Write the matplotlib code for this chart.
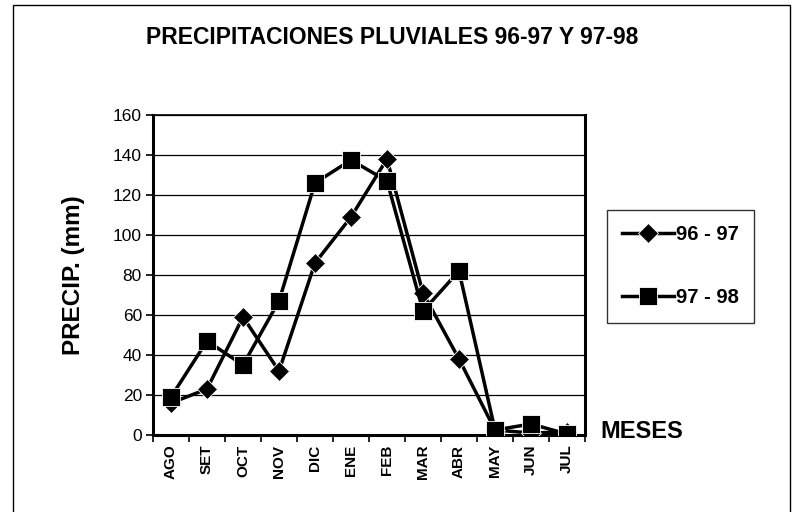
import matplotlib
matplotlib.use('Agg')
import matplotlib.pyplot as plt
from matplotlib.patches import Rectangle
import numpy as np

months = ['AGO', 'SET', 'OCT', 'NOV', 'DIC', 'ENE', 'FEB', 'MAR', 'ABR', 'MAY', 'JUN', 'JUL']
precip_96_97 = [16, 23, 59, 32, 86, 109, 138, 71, 38, 2.5, 1, 1.5]
precip_97_98 = [19, 47, 35, 67, 126, 137.5, 127, 62, 82, 2.5, 5.5, 0.5]
yticks = [0, 20, 40, 60, 80, 100, 120, 140, 160]

plt.rcParams['font.family'] = ['Liberation Sans', 'DejaVu Sans']

fig = plt.figure(figsize=(7.98, 5.12), dpi=100)
ax = fig.add_axes([153 / 798, 1 - 435 / 512, 432 / 798, 320 / 512])

x = np.arange(len(months))
ax.plot(x, precip_96_97, color='black', lw=2.5, marker='D', markersize=10,
        markerfacecolor='black', markeredgecolor='white', markeredgewidth=0.6,
        label='96 - 97', zorder=3)
ax.plot(x, precip_97_98, color='black', lw=2.5, marker='s', markersize=13,
        markerfacecolor='black', markeredgecolor='white', markeredgewidth=0.6,
        label='97 - 98', zorder=3)

ax.set_xlim(-0.5, len(months) - 0.5)
ax.set_ylim(0, 160)
ax.set_yticks(yticks)
ax.set_yticklabels([str(v) for v in yticks], fontsize=12.5)
ax.set_xticks(x)
ax.set_xticklabels(months, rotation=90, fontsize=11, fontweight='bold')
ax.set_xticks(np.arange(-0.5, len(months)), minor=True)
ax.tick_params(axis='x', which='major', length=0, pad=7)
ax.tick_params(axis='x', which='minor', length=5, width=1.2, direction='out')
ax.tick_params(axis='y', length=5, width=1.2, direction='out', pad=3)
ax.grid(axis='y', color='black', lw=0.9)
ax.set_axisbelow(True)
for side in ['left', 'bottom', 'right']:
    ax.spines[side].set_linewidth(2.2)
ax.spines['top'].set_linewidth(1.2)

ax.set_ylabel('PRECIP. (mm)', fontsize=17.5, fontweight='bold', labelpad=20)

fig.text(392 / 798, 1 - 38 / 512, 'PRECIPITACIONES PLUVIALES 96-97 Y 97-98',
         ha='center', va='center', fontsize=16.5, fontweight='bold')
fig.text(600 / 798, 1 - 431 / 512, 'MESES', ha='left', va='center',
         fontsize=17, fontweight='bold')

leg = fig.legend(loc='upper left', bbox_to_anchor=(607 / 798, 1 - 210 / 512),
                 fontsize=14.5, frameon=True, fancybox=False, edgecolor='black',
                 handlelength=2.6, labelspacing=2.2, borderpad=0.75,
                 handletextpad=0.1, borderaxespad=0)
leg.get_frame().set_linewidth(1)
for t in leg.get_texts():
    t.set_fontweight('bold')

fig.patches.append(Rectangle((13 / 798, -0.01), (790 - 13) / 798, 1 - 5 / 512 + 0.01,
                             transform=fig.transFigure, fill=False,
                             edgecolor='black', lw=1))

fig.savefig('out.png', dpi=100)
